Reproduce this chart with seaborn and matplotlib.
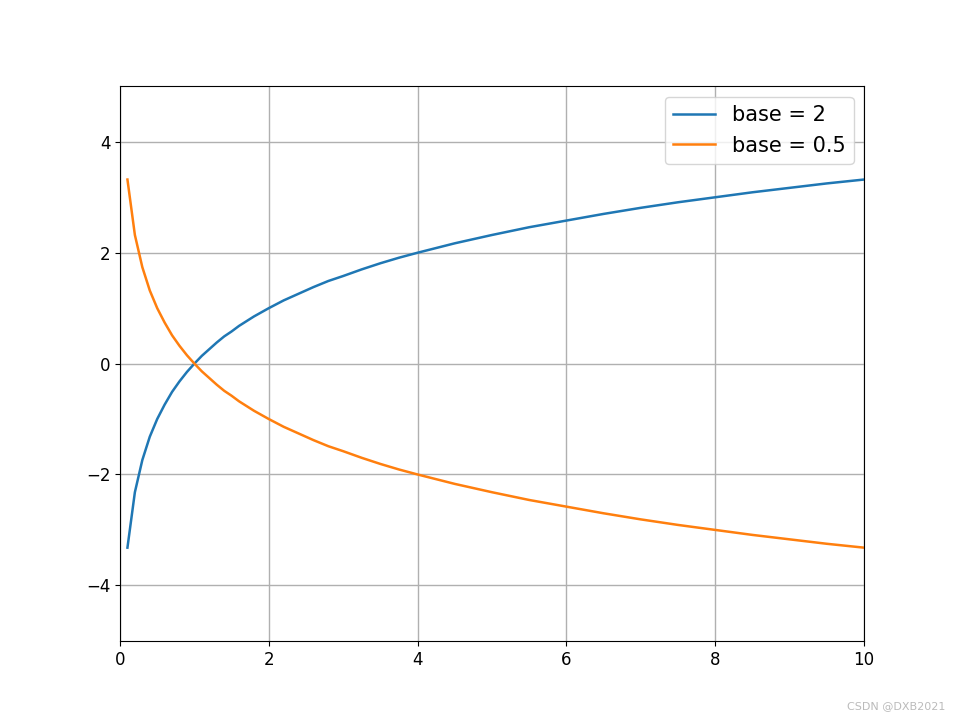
import matplotlib
matplotlib.use("Agg")
import matplotlib.pyplot as plt
import seaborn as sns
import pandas as pd

# values
x_vals = [0.1, 0.2, 0.3, 0.4, 0.5, 0.6, 0.7, 0.8, 0.9, 1.0,
          1.1, 1.2, 1.3, 1.4, 1.5, 1.6, 1.8, 2.0, 2.2, 2.4,
          2.6, 2.8, 3.0, 3.25, 3.5, 3.75, 4.0, 4.5, 5.0, 5.5,
          6.0, 6.5, 7.0, 7.5, 8.0, 8.5, 9.0, 9.5, 10.0]
y_base2 = [-3.32, -2.32, -1.74, -1.32, -1.00, -0.74, -0.51, -0.32, -0.15, 0.00,
           0.14, 0.26, 0.38, 0.49, 0.58, 0.68, 0.85, 1.00, 1.14, 1.26,
           1.38, 1.49, 1.58, 1.70, 1.81, 1.91, 2.00, 2.17, 2.32, 2.46,
           2.58, 2.70, 2.81, 2.91, 3.00, 3.09, 3.17, 3.25, 3.32]
y_base05 = [3.32, 2.32, 1.74, 1.32, 1.00, 0.74, 0.51, 0.32, 0.15, 0.00,
            -0.14, -0.26, -0.38, -0.49, -0.58, -0.68, -0.85, -1.00, -1.14, -1.26,
            -1.38, -1.49, -1.58, -1.70, -1.81, -1.91, -2.00, -2.17, -2.32, -2.46,
            -2.58, -2.70, -2.81, -2.91, -3.00, -3.09, -3.17, -3.25, -3.32]
labels = ["base = 2", "base = 0.5"]

df = pd.DataFrame({
    "x": x_vals * 2,
    "y": y_base2 + y_base05,
    "base": [labels[0]] * len(x_vals) + [labels[1]] * len(x_vals),
})

fig, ax = plt.subplots(figsize=(9.6, 7.2), dpi=100)
sns.lineplot(data=df, x="x", y="y", hue="base", ax=ax,
             palette=["#1f77b4", "#ff7f0e"], linewidth=1.8, sort=False)
ax.set_xlim(0, 10)
ax.set_ylim(-5, 5)
ax.set_xlabel("")
ax.set_ylabel("")
ax.grid(True, color="#b0b0b0", linewidth=1.0)
ax.legend(loc="upper right", fontsize=15)
ax.tick_params(labelsize=12)
fig.text(0.985, 0.012, "CSDN @DXB2021", ha="right", va="bottom",
         fontsize=8, color="#bbbbbb")

fig.savefig("out.png", dpi=100)
